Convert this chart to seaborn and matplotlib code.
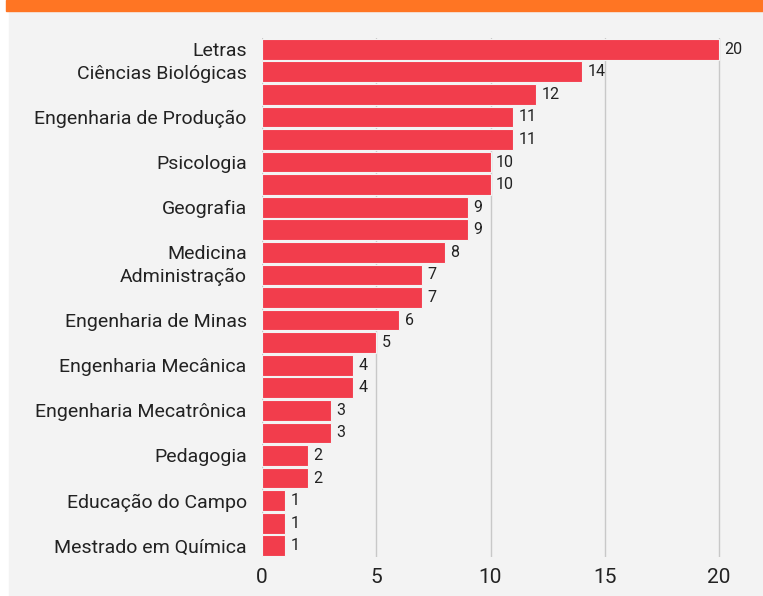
import pandas as pd
import matplotlib.pyplot as plt
import seaborn as sns
from matplotlib.patches import Rectangle

# cursos (só alguns rótulos aparecem no eixo)
cursos = ["Letras", "Ciências Biológicas", "", "Engenharia de Produção", "",
          "Psicologia", "", "Geografia", "", "Medicina", "Administração", "",
          "Engenharia de Minas", "", "Engenharia Mecânica", "", "Engenharia Mecatrônica",
          "", "Pedagogia", "", "Educação do Campo", "", "Mestrado em Química"]
valores = [20, 14, 12, 11, 11, 10, 10, 9, 9, 8, 7, 7, 6, 5, 4, 4, 3, 3, 2, 2, 1, 1, 1]
x_ticks = [0, 5, 10, 15, 20]

df = pd.DataFrame({"pos": [str(i) for i in range(len(valores))], "valor": valores})

sns.set_style("white")
plt.rcParams['font.family'] = ['Roboto', 'DejaVu Sans']

W, H = 763, 596
fig = plt.figure(figsize=(W / 100, H / 100), dpi=100)
fig.patch.set_facecolor("white")

# painel cinza e faixa laranja
fig.patches.append(Rectangle((9 / W, 0), (W - 9) / W, (H - 11) / H,
                             transform=fig.transFigure, color="#f3f3f3", zorder=-10))
fig.patches.append(Rectangle((6 / W, (H - 11) / H), (W - 6) / W, 11 / H,
                             transform=fig.transFigure, color="#ff7523", zorder=-10))

x0, x20 = 262, 719
xmax = 21.2
px_unit = (x20 - x0) / 20
ax = fig.add_axes([x0 / W, (H - 557) / H, xmax * px_unit / W, (557 - 38) / H])
ax.set_facecolor("none")
ax.set_zorder(5)

sns.barplot(data=df, x="valor", y="pos", orient="h", color="#f23d4c", saturation=1,
            width=0.92, edgecolor="#f3f3f3", linewidth=0.8, ax=ax, zorder=3)

for c in ax.containers:
    ax.bar_label(c, padding=4, fontsize=11.5, color="#222222")

ax.set_xlim(0, xmax)
ax.set_ylim(len(valores) - 0.5, -0.5)
ax.set_xticks(x_ticks)
ax.set_xticklabels([str(t) for t in x_ticks], fontsize=15, color="#222222")
ax.set_yticks(range(len(cursos)))
ax.set_yticklabels(cursos, fontsize=14, color="#222222")
ax.tick_params(length=0, axis="y", pad=11)
ax.tick_params(length=0, axis="x", pad=8)
ax.set_xlabel("")
ax.set_ylabel("")
ax.xaxis.grid(True, color="#c8c8c8", linewidth=1, zorder=0)
ax.set_axisbelow(True)
sns.despine(ax=ax, left=True, bottom=True)

fig.savefig("out.png", dpi=100, facecolor=fig.get_facecolor())
